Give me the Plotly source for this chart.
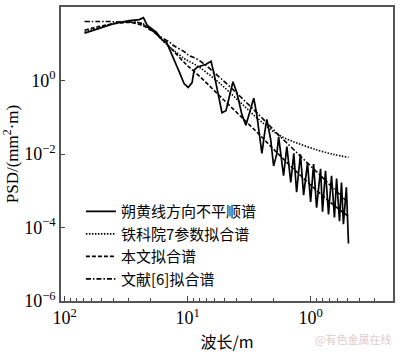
import plotly.graph_objects as go

# Measured spectrum (Shuohuang line, vertical irregularity)
meas_wl = [68.9, 52.1, 39.4, 29.8, 24.7, 22.9, 21.3, 18.0, 16.1, 14.9, 13.4, 11.7, 10.7, 9.9, 9.2,
           8.86, 8.37, 7.08, 6.45, 6.10, 5.56, 5.26, 4.88, 4.45, 4.28, 3.97, 3.62, 3.36, 3.18, 2.90,
           2.74, 2.49, 2.36, 2.27, 2.11, 2.00, 1.88, 1.82, 1.66, 1.56, 1.45, 1.37, 1.30, 1.21, 1.14,
           1.06, 1.00, 0.946, 0.894, 0.830, 0.800, 0.757, 0.715, 0.676, 0.640, 0.615, 0.582, 0.561,
           0.541, 0.512, 0.492]
meas_psd = [19.4, 26.3, 35.6, 42.7, 45.4, 51.3, 31.5, 20.6, 12.7, 11.2, 5.09, 1.71, 0.824, 0.646, 0.875,
            1.93, 2.31, 2.77, 3.33, 1.51, 0.331, 0.133, 0.150, 0.506, 0.929, 0.449, 0.118, 0.0604, 0.118, 0.331,
            0.118, 0.0104, 0.0394, 0.0869, 0.0243, 0.00471, 0.0104, 0.0291, 0.00256, 0.0159, 0.00168, 0.0104, 0.000912, 0.00975, 0.00076,
            0.00565, 0.000498, 0.00532, 0.000345, 0.00393, 0.000271, 0.00348, 0.000226, 0.00256, 0.000188, 0.00214, 0.000148, 0.00168,
            0.000123, 0.00124, 0.0000365]

# Fitted spectra share a wavelength grid
fit_wl = [68.9, 52.1, 43.3, 35.9, 29.8, 24.7, 22.5, 20.5, 18.7, 17.0, 14.1, 12.9, 10.7, 9.73, 8.07,
          5.56, 3.83, 2.64, 1.82, 1.25, 0.861, 0.652, 0.492]
tky_psd = [20.6, 27.9, 33.5, 37.8, 39.0, 37.8, 33.5, 26.3, 20.6, 15.2, 8.28, 6.50, 4.00, 3.33, 2.31,
           0.875, 0.276, 0.0869, 0.0329, 0.0191, 0.0125, 0.00975, 0.00813]
this_psd = [23.3, 29.7, 33.5, 36.7, 37.8, 33.5, 29.7, 24.7, 20.6, 15.2, 8.28, 6.11, 3.13, 2.31, 1.34,
            0.397, 0.118, 0.0350, 0.00975, 0.00290, 0.000912, 0.000414, 0.000200]
ref6_psd = [40.2, 40.2, 40.2, 39.0, 39.0, 36.7, 31.5, 26.3, 20.6, 16.2, 11.2, 8.81, 6.11, 4.80, 3.54,
            1.26, 0.397, 0.118, 0.0329, 0.00975, 0.00290, 0.00116, 0.000468]

names = ["朔黄线方向不平顺谱", "铁科院7参数拟合谱", "本文拟合谱", "文献[6]拟合谱"]

x_major = [100, 10, 1]
x_major_text = ["10<sup>2</sup>", "10<sup>1</sup>", "10<sup>0</sup>"]
x_minor = [90, 80, 70, 60, 50, 40, 30, 20, 9, 8, 7, 6, 5, 4, 3, 2, 0.9, 0.8, 0.7, 0.6, 0.5, 0.4, 0.3]
y_major = [1e2, 1, 1e-2, 1e-4, 1e-6]
y_major_text = ["10<sup>2</sup>", "10<sup>0</sup>", "10<sup>−2</sup>", "10<sup>−4</sup>", "10<sup>−6</sup>"]

fig = go.Figure()
fig.add_trace(go.Scatter(x=meas_wl, y=meas_psd, mode="lines", name=names[0],
                         line=dict(color="black", width=1.7)))
fig.add_trace(go.Scatter(x=fit_wl, y=tky_psd, mode="lines", name=names[1],
                         line=dict(color="black", width=1.6, dash="1.5px,1.5px"), line_shape="spline"))
fig.add_trace(go.Scatter(x=fit_wl, y=this_psd, mode="lines", name=names[2],
                         line=dict(color="black", width=1.6, dash="4px,2px"), line_shape="spline"))
fig.add_trace(go.Scatter(x=fit_wl, y=ref6_psd, mode="lines", name=names[3],
                         line=dict(color="black", width=1.6, dash="5px,2px,1.5px,2px"), line_shape="spline"))

serif = "Liberation Serif"
cjk = "Noto Sans CJK SC"

fig.update_layout(
    width=400, height=354,
    margin=dict(l=61, r=5, t=6, b=45),
    paper_bgcolor="white", plot_bgcolor="white",
    showlegend=True,
    legend=dict(x=0.06, y=0.36, xanchor="left", yanchor="top",
                bgcolor="rgba(0,0,0,0)", font=dict(family=cjk, size=15, color="black"),
                itemwidth=30, tracegroupgap=0),
    xaxis=dict(type="log", range=[2.03, -0.67], tickmode="array", tickvals=x_major,
               ticktext=x_major_text, ticks="inside", ticklen=5, tickwidth=1, tickcolor="#444",
               showline=True, linecolor="#555", linewidth=1.5, mirror=True, showgrid=False,
               zeroline=False, tickfont=dict(family=serif, size=18, color="black"),
               minor=dict(tickvals=x_minor, ticks="inside", ticklen=3, tickwidth=1,
                          tickcolor="#444", showgrid=False),
               title=dict(text="波长/m", font=dict(family=cjk, size=16, color="black"), standoff=9)),
    yaxis=dict(type="log", range=[-6, 2], tickmode="array", tickvals=y_major,
               ticktext=y_major_text, ticks="inside", ticklen=4, tickwidth=1, tickcolor="#444",
               showline=True, linecolor="#555", linewidth=1.5, mirror=True, showgrid=False,
               zeroline=False, tickfont=dict(family=serif, size=18, color="black"),
               title=dict(text="PSD/(mm<sup>2</sup>·m)", font=dict(family=serif, size=17, color="black"),
                          standoff=2)),
    annotations=[dict(text="@有色金属在线", x=1.0, y=0, xref="paper", yref="paper",
                      xanchor="right", yanchor="top", yshift=-28, showarrow=False,
                      font=dict(family=cjk, size=11, color="#e3cccc"))],
)

fig.write_html("out.html")
